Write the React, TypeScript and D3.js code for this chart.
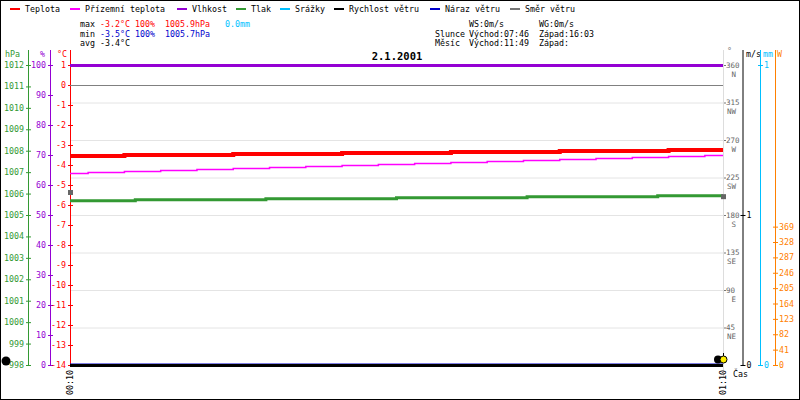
import React from 'react';
import * as d3 from 'd3';

// hourly meteo chart, 2.1.2001 00:10 - 01:10
const tempTimes = ['00:10', '00:15', '00:25', '00:35', '00:45', '00:55', '01:05', '01:10'];
const tempValues = [-3.55, -3.5, -3.45, -3.4, -3.35, -3.3, -3.25, -3.25];

const feelTimes = ['00:10', '00:11:40', '00:15', '00:18:20', '00:21:40', '00:25', '00:28:20', '00:31:40', '00:35', '00:38:20',
  '00:41:40', '00:45', '00:48:20', '00:51:40', '00:55', '00:58:20', '01:01:40', '01:05', '01:08:20', '01:10'];
const feelValues = [-4.42, -4.37, -4.32, -4.27, -4.22, -4.17, -4.12, -4.07, -4.02, -3.97,
  -3.92, -3.87, -3.82, -3.77, -3.72, -3.67, -3.62, -3.57, -3.52, -3.52];

const pressTimes = ['00:10', '00:16', '00:28', '00:40', '00:52', '01:04', '01:10'];
const pressValues = [1005.67, 1005.71, 1005.76, 1005.81, 1005.85, 1005.9, 1005.9];

const humTimes = ['00:10', '01:10'];
const humValues = [100, 100];

const windTimes = ['00:10', '01:10'];
const windValues = [0, 0];
const gustValues = [0, 0];

const dirTimes = ['00:10', '01:10'];
const dirValues = [207, 202];

const xTickLabels = ['00:10', '01:10'];
const pressTicks = d3.range(998, 1013);
const humTicks = d3.range(0, 101, 10);
const tempTicks = d3.range(-14, 2);
const dirTicks = [45, 90, 135, 180, 225, 270, 315, 360];
const dirNames = ['NE', 'E', 'SE', 'S', 'SW', 'W', 'NW', 'N'];
const windTicks = [0, 1];
const rainTicks = [0, 1];
const solarTicks = [0, 41, 82, 123, 164, 205, 246, 287, 328, 369];

const legendItems = [
  { name: 'Teplota', color: '#ff0000', x: 10 },
  { name: 'Přízemní teplota', color: '#ff00ff', x: 70 },
  { name: 'Vlhkost', color: '#9400d3', x: 177 },
  { name: 'Tlak', color: '#339933', x: 236 },
  { name: 'Srážky', color: '#00bfff', x: 280 },
  { name: 'Rychlost větru', color: '#000000', x: 334 },
  { name: 'Náraz větru', color: '#0000cc', x: 430 },
  { name: 'Směr větru', color: '#777777', x: 510 },
];

const toMin = (s: string) => {
  const p = s.split(':').map(Number);
  return p[0] * 60 + p[1] + (p[2] || 0) / 60;
};

const FONT = '"DejaVu Sans Mono", monospace';
const FS = '8.3px';

export default function App() {
  const top = 65, bottom = 365, left = 70, right = 723;
  const x = d3.scaleLinear().domain([10, 70]).range([left, right]);
  const yTemp = d3.scaleLinear().domain([-14, 1]).range([bottom, top]);
  const yHum = d3.scaleLinear().domain([0, 100]).range([bottom, top]);
  const yPress = d3.scaleLinear().domain([998, 1012]).range([bottom, top]);
  const yDir = d3.scaleLinear().domain([0, 360]).range([bottom, top]);
  const yWind = d3.scaleLinear().domain([0, 2]).range([bottom, top]);
  const yRain = d3.scaleLinear().domain([0, 1]).range([bottom, top]);
  const ySolar = d3.scaleLinear().domain([0, 800]).range([bottom, top]);

  const stepLine = (times: string[], vals: number[], ys: d3.ScaleLinear<number, number>) =>
    d3.line<number>()
      .curve(d3.curveStepAfter)
      .x((_, i) => x(toMin(times[i])))
      .y((v) => ys(v))(vals) || '';

  const txt = { fontFamily: FONT, fontSize: FS } as const;
  const small = { fontFamily: FONT, fontSize: '7.5px' } as const;

  const leftAxes = [
    { ax: 28, color: '#339933', ticks: pressTicks, scale: yPress, head: 'hPa', headX: 5 },
    { ax: 50, color: '#9400d3', ticks: humTicks, scale: yHum, head: '%', headX: 40 },
    { ax: 70, color: '#ff0000', ticks: tempTicks, scale: yTemp, head: '°C', headX: 57 },
  ];

  const rightAxes = [
    { ax: 743, color: '#000000', ticks: windTicks, scale: yWind, head: 'm/s', headX: 746 },
    { ax: 760.5, color: '#00bfff', ticks: rainTicks, scale: yRain, head: 'mm', headX: 763 },
    { ax: 775.5, color: '#ff8000', ticks: solarTicks, scale: ySolar, head: 'W', headX: 777 },
  ];

  return (
    <svg width={800} height={400} style={{ position: 'absolute', left: 0, top: 0, background: '#fff' }}>
      <rect x={0.5} y={0.5} width={799} height={399} fill="#fff" stroke="#000" />

      {/* legend */}
      {legendItems.map((d) => (
        <g key={d.name}>
          <line x1={d.x} x2={d.x + 10} y1={9} y2={9} stroke={d.color} strokeWidth={2} />
          <text x={d.x + 15} y={12} {...txt} fill="#000">{d.name}</text>
        </g>
      ))}

      {/* stats */}
      <g {...txt}>
        <text x={80} y={27} fill="#000">max</text>
        <text x={100} y={27} fill="#ff0000">-3.2°C</text>
        <text x={135} y={27} fill="#ff0000">100%</text>
        <text x={165} y={27} fill="#ff0000">1005.9hPa</text>
        <text x={225} y={27} fill="#00bfff">0.0mm</text>
        <text x={80} y={36.5} fill="#000">min</text>
        <text x={100} y={36.5} fill="#0000cc">-3.5°C</text>
        <text x={135} y={36.5} fill="#0000cc">100%</text>
        <text x={165} y={36.5} fill="#0000cc">1005.7hPa</text>
        <text x={80} y={46} fill="#000">avg</text>
        <text x={100} y={46} fill="#000">-3.4°C</text>

        <text x={469} y={27} fill="#000">WS:0m/s</text>
        <text x={539} y={27} fill="#000">WG:0m/s</text>
        <text x={435} y={36.5} fill="#000">Slunce</text>
        <text x={469} y={36.5} fill="#000">Východ:07:46</text>
        <text x={539} y={36.5} fill="#000">Západ:16:03</text>
        <text x={435} y={46} fill="#000">Měsíc</text>
        <text x={469} y={46} fill="#000">Východ:11:49</text>
        <text x={539} y={46} fill="#000">Západ:</text>
      </g>

      <text x={397} y={60} textAnchor="middle" fontFamily={FONT} fontSize="10.5px" fontWeight="bold" fill="#000">2.1.2001</text>

      {/* grid */}
      {dirTicks.map((t) => (
        <line key={t} x1={left} x2={right} y1={yDir(t) + 0.5} y2={yDir(t) + 0.5} stroke="#e4e4e4" />
      ))}
      <line x1={right + 0.5} x2={right + 0.5} y1={50} y2={bottom + 12} stroke="#dddddd" />

      {/* left axes */}
      {leftAxes.map((a) => (
        <g key={a.head}>
          <line x1={a.ax + 0.5} x2={a.ax + 0.5} y1={50} y2={bottom + 1} stroke={a.color} />
          <text x={a.headX} y={57} {...txt} fill={a.color}>{a.head}</text>
          {a.ticks.map((t) => (
            <g key={t}>
              <line x1={a.ax - 2} x2={a.ax + 3} y1={a.scale(t) + 0.5} y2={a.scale(t) + 0.5} stroke={a.color} />
              <text x={a.ax - 4} y={a.scale(t) + 3} textAnchor="end" {...txt} fill={a.color}>{t}</text>
            </g>
          ))}
        </g>
      ))}

      {/* direction axis */}
      <text x={727} y={54} {...txt} fill="#777">°</text>
      {dirTicks.map((t, i) => (
        <g key={t}>
          <line x1={right + 1} x2={right + 3} y1={yDir(t) + 0.5} y2={yDir(t) + 0.5} stroke="#777" />
          <text x={726} y={yDir(t) + 2.7} {...small} fill="#666">{t}</text>
          <text x={736} y={yDir(t) + 11.5} textAnchor="end" {...small} fill="#666">{dirNames[i]}</text>
        </g>
      ))}

      {/* right axes */}
      {rightAxes.map((a) => (
        <g key={a.head}>
          <line x1={a.ax} x2={a.ax} y1={50} y2={bottom + 1} stroke={a.color} />
          <text x={a.headX} y={57} {...txt} fill={a.color}>{a.head}</text>
          {a.ticks.map((t) => (
            <g key={t}>
              <line x1={a.ax - 2.5} x2={a.ax + 2.5} y1={a.scale(t) + 0.5} y2={a.scale(t) + 0.5} stroke={a.color} />
              <text x={a.ax + 3.5} y={a.scale(t) + 3} {...txt} fill={a.color}>{t}</text>
            </g>
          ))}
        </g>
      ))}

      {/* 0 °C reference */}
      <line x1={left} x2={right} y1={yTemp(0) + 0.5} y2={yTemp(0) + 0.5} stroke="#808080" />

      {/* series */}
      <path d={stepLine(humTimes, humValues, yHum)} fill="none" stroke="#9400d3" strokeWidth={3} transform="translate(0,0.5)" />
      <path d={stepLine(pressTimes, pressValues, yPress)} fill="none" stroke="#339933" strokeWidth={3} />
      <path d={stepLine(feelTimes, feelValues, yTemp)} fill="none" stroke="#ff00ff" strokeWidth={1.5} />
      <path d={stepLine(tempTimes, tempValues, yTemp)} fill="none" stroke="#ff0000" strokeWidth={4} />
      <path d={stepLine(windTimes, gustValues, yWind)} fill="none" stroke="#0000cc" strokeWidth={3} />
      <path d={stepLine(windTimes, windValues, yWind)} fill="none" stroke="#000000" strokeWidth={3} transform="translate(0,0.5)" />
      {dirTimes.map((t, i) => (
        <rect key={t} x={x(toMin(t)) - 2} y={yDir(dirValues[i]) - 2.5} width={5} height={5} fill="#666" />
      ))}

      {/* moon / sun markers */}
      <circle cx={6} cy={361} r={4.5} fill="#000" />
      <circle cx={718} cy={359.5} r={4} fill="#000" />
      <circle cx={723.5} cy={359.5} r={3.5} fill="#ffee00" stroke="#000" />
      <line x1={723.5} x2={723.5} y1={353} y2={356} stroke="#000" />

      {/* x labels */}
      {xTickLabels.map((t) => (
        <text key={t} transform={`translate(${x(toMin(t)) + 3},395) rotate(-90)`} {...txt} fill="#000">{t}</text>
      ))}
      <text x={733} y={377} {...txt} fill="#000">Čas</text>
    </svg>
  );
}
